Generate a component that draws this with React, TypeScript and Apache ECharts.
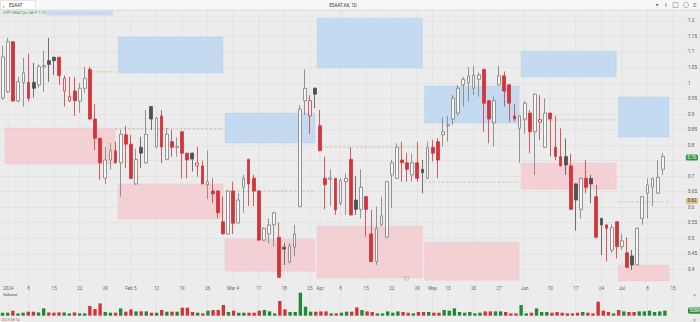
import React, { useEffect, useRef } from "react";
import * as echarts from "echarts";

// [open, close, low, high]
const candles: number[][] = [
  [0.952, 1.084, 0.945, 1.12], [0.972, 1.133, 0.968, 1.145], [1.133, 0.942, 0.94, 1.135], [0.942, 1.004, 0.938, 1.02],
  [1.002, 1.033, 0.924, 1.081], [1.002, 0.951, 0.94, 1.094], [1.002, 0.983, 0.953, 1.065], [0.994, 1.053, 0.985, 1.06],
  [1.052, 1.056, 0.972, 1.104], [1.072, 1.06, 1.004, 1.145], [1.083, 1.072, 1.026, 1.085], [1.083, 1.024, 0.994, 1.085],
  [0.974, 1.015, 0.924, 1.024], [0.942, 0.956, 0.94, 1.02], [0.974, 0.943, 0.894, 1.02], [0.942, 0.983, 0.904, 0.999],
  [0.983, 1.015, 0.967, 1.053], [1.044, 0.884, 0.882, 1.052], [0.884, 0.822, 0.784, 0.932], [0.822, 0.743, 0.688, 0.824],
  [0.694, 0.752, 0.675, 0.794], [0.752, 0.782, 0.72, 0.807], [0.782, 0.743, 0.741, 0.811], [0.743, 0.835, 0.634, 0.849],
  [0.833, 0.803, 0.725, 0.862], [0.803, 0.693, 0.69, 0.833], [0.675, 0.754, 0.672, 0.788], [0.793, 0.774, 0.726, 0.826],
  [0.743, 0.835, 0.741, 0.913], [0.924, 0.884, 0.849, 0.926], [0.794, 0.887, 0.79, 0.89], [0.894, 0.794, 0.742, 0.913],
  [0.754, 0.835, 0.752, 0.855], [0.811, 0.793, 0.762, 0.849], [0.793, 0.795, 0.763, 0.825], [0.843, 0.774, 0.693, 0.845],
  [0.774, 0.752, 0.693, 0.775], [0.774, 0.755, 0.715, 0.776], [0.733, 0.742, 0.698, 0.795], [0.733, 0.675, 0.674, 0.75],
  [0.672, 0.682, 0.626, 0.782], [0.652, 0.643, 0.613, 0.693], [0.652, 0.582, 0.564, 0.655], [0.553, 0.514, 0.512, 0.634],
  [0.514, 0.652, 0.512, 0.655], [0.652, 0.548, 0.514, 0.682], [0.549, 0.623, 0.548, 0.645], [0.664, 0.693, 0.582, 0.704],
  [0.754, 0.675, 0.604, 0.756], [0.693, 0.652, 0.604, 0.704], [0.652, 0.494, 0.492, 0.655], [0.494, 0.532, 0.492, 0.535],
  [0.514, 0.543, 0.484, 0.564], [0.543, 0.582, 0.473, 0.585], [0.503, 0.374, 0.372, 0.55], [0.471, 0.465, 0.414, 0.484],
  [0.423, 0.475, 0.419, 0.484], [0.471, 0.514, 0.443, 0.543], [0.602, 0.916, 0.6, 0.929], [0.943, 0.983, 0.897, 1.044],
  [0.894, 0.943, 0.836, 0.961], [0.983, 0.964, 0.919, 0.986], [0.862, 0.782, 0.78, 0.913], [0.693, 0.672, 0.593, 0.763],
  [0.69, 0.694, 0.604, 0.722], [0.693, 0.591, 0.575, 0.694], [0.612, 0.686, 0.606, 0.694], [0.682, 0.693, 0.575, 0.709],
  [0.754, 0.575, 0.573, 0.793], [0.623, 0.593, 0.575, 0.7], [0.593, 0.664, 0.564, 0.722], [0.634, 0.593, 0.505, 0.636],
  [0.514, 0.425, 0.423, 0.591], [0.425, 0.532, 0.414, 0.602], [0.543, 0.572, 0.54, 0.634], [0.503, 0.682, 0.501, 0.685],
  [0.704, 0.743, 0.597, 0.752], [0.693, 0.793, 0.69, 0.806], [0.752, 0.743, 0.682, 0.811], [0.743, 0.722, 0.682, 0.774],
  [0.704, 0.743, 0.682, 0.772], [0.743, 0.693, 0.682, 0.811], [0.722, 0.711, 0.645, 0.752], [0.693, 0.793, 0.69, 0.811],
  [0.793, 0.774, 0.747, 0.817], [0.811, 0.752, 0.693, 0.822], [0.833, 0.843, 0.795, 0.89], [0.862, 0.866, 0.811, 0.894],
  [0.884, 0.951, 0.865, 0.961], [0.903, 0.983, 0.894, 0.994], [0.994, 1.012, 0.924, 1.02], [1.001, 1.023, 0.94, 1.051],
  [0.983, 1.025, 0.961, 1.055], [1.012, 1.026, 0.956, 1.034], [1.044, 0.935, 0.843, 1.046], [0.943, 0.884, 0.806, 0.945],
  [0.872, 0.943, 0.795, 0.956], [0.994, 1.023, 0.992, 1.055], [1.023, 0.974, 0.924, 1.037], [0.994, 0.935, 0.876, 0.996],
  [0.894, 0.884, 0.876, 0.932], [0.854, 0.894, 0.743, 0.896], [0.884, 0.935, 0.836, 0.943], [0.903, 0.843, 0.774, 0.913],
  [0.843, 0.964, 0.704, 0.966], [0.874, 0.882, 0.817, 0.961], [0.793, 0.903, 0.791, 0.951], [0.903, 0.884, 0.763, 0.905],
  [0.793, 0.763, 0.752, 0.894], [0.763, 0.733, 0.731, 0.854], [0.763, 0.736, 0.704, 0.822], [0.733, 0.593, 0.591, 0.772],
  [0.675, 0.623, 0.524, 0.677], [0.593, 0.693, 0.564, 0.695], [0.693, 0.664, 0.645, 0.752], [0.693, 0.675, 0.613, 0.704],
  [0.634, 0.503, 0.501, 0.672], [0.564, 0.543, 0.446, 0.566], [0.543, 0.532, 0.425, 0.545], [0.462, 0.534, 0.453, 0.545],
  [0.553, 0.473, 0.435, 0.556], [0.473, 0.492, 0.462, 0.514], [0.453, 0.406, 0.404, 0.503], [0.443, 0.414, 0.398, 0.462],
  [0.414, 0.532, 0.412, 0.534], [0.564, 0.634, 0.543, 0.636], [0.645, 0.672, 0.564, 0.693], [0.664, 0.693, 0.604, 0.695],
  [0.645, 0.696, 0.643, 0.752], [0.722, 0.763, 0.704, 0.774],
];

// volume, thousands
const volumes: number[] = [
  300, 300, 500, 230, 300, 400, 400, 330, 730, 330,
  300, 330, 330, 230, 330, 230, 230, 970, 670, 1230,
  370, 300, 300, 730, 400, 630, 430, 430, 430, 300,
  300, 570, 400, 400, 400, 800, 800, 370, 300, 230,
  500, 570, 570, 1070, 370, 500, 300, 300, 300, 300,
  500, 570, 430, 230, 1470, 630, 370, 370, 2300, 900,
  400, 400, 430, 430, 230, 230, 300, 400, 400, 830,
  570, 430, 370, 230, 230, 430, 300, 430, 370, 300,
  230, 370, 370, 370, 300, 300, 570, 500, 730, 370,
  300, 370, 230, 300, 430, 430, 430, 430, 370, 230,
  230, 1070, 230, 300, 730, 370, 370, 300, 370, 300,
  230, 230, 300, 370, 300, 230, 1400, 500, 370, 230,
  570, 430, 370, 370, 430, 430, 500, 370, 430, 500,
];

const SLOTS = 134; // trading-day slots on the time axis (incl. empty right margin)

// time-axis tick labels: [slot index, text]
const tickLabels: [number, string][] = [
  [1, "2024"], [5, "8"], [10, "15"], [15, "22"], [20, "29"], [25, "Feb 5"], [30, "12"], [35, "19"],
  [40, "26"], [45, "Mar 4"], [50, "11"], [55, "18"], [60, "25"], [62, "Apr"], [66, "8"], [71, "15"],
  [76, "22"], [81, "29"], [84, "May"], [87, "13"], [92, "20"], [97, "27"], [102, "Jun"], [107, "10"],
  [112, "17"], [117, "24"], [121, "Jul"], [126, "8"], [131, "15"],
];

// monthly zones: [fromSlot, toSlot, low, high]
const blueZones: number[][] = [
  [22.5, 43.0, 1.032, 1.148],
  [43.4, 61.0, 0.807, 0.903],
  [61.4, 82.0, 1.048, 1.209],
  [82.4, 100.9, 0.871, 0.99],
  [101.3, 119.9, 1.019, 1.103],
  [120.3, 130.2, 0.826, 0.955],
];
const pinkZones: number[][] = [
  [0.4, 21.9, 0.739, 0.855],
  [22.5, 43.0, 0.562, 0.675],
  [43.4, 61.0, 0.394, 0.497],
  [61.4, 82.0, 0.372, 0.539],
  [82.4, 100.9, 0.365, 0.488],
  [101.3, 119.9, 0.658, 0.742],
  [120.3, 130.2, 0.362, 0.414],
];
// dashed reference levels: [fromSlot, toSlot, price]
const levels: number[][] = [
  [16.6, 21.9, 1.036],
  [21.9, 43.0, 0.853],
  [43.4, 61.0, 0.652],
  [61.4, 82.0, 0.793],
  [82.4, 100.9, 0.681],
  [101.3, 119.9, 0.881],
  [120.3, 130.2, 0.617],
];

const W = 700, H = 322;
const GRID_LEFT = -2.6, GRID_RIGHT = 12;
const P_TOP = 5.4, P_BOTTOM = 37.2;
const V_TOP = 291.7, V_BOTTOM = 6.3;

const BG = "#ececec";
const GRIDC = "#dddddd";
const RED = "#d3343a";
const DARK = "#4f4f4f";
const GRAY = "#7c7c7c";
const HOLLOW = "#f6f6f6";
const VGREEN = "#1f8a33";
const VRED = "#d3343a";
const FONT = "Roboto";

export default function App() {
  const ref = useRef<HTMLDivElement>(null);
  useEffect(() => {
    if (!ref.current) return;
    const chart = echarts.init(ref.current, undefined, { renderer: "svg" });
    const cats = Array.from({ length: SLOTS }, (_, i) => String(i));
    const labelMap: Record<string, string> = {};
    tickLabels.forEach(([i, t]) => (labelMap[String(i)] = t));

    const candleData = candles.map((c, i) => {
      const [o, cl] = c;
      const prev = i > 0 ? candles[i - 1][1] : o;
      const up = cl >= o;
      const gain = cl >= prev;
      const edge = gain ? (up ? GRAY : DARK) : RED;
      const fill = up ? HOLLOW : edge;
      return {
        value: c,
        itemStyle: { color: fill, color0: fill, borderColor: edge, borderColor0: edge, borderColorDoji: edge, borderWidth: 0.8 },
      };
    });
    const volData = volumes.map((v, i) => ({
      value: v,
      itemStyle: { color: candles[i][1] >= candles[i][0] ? VGREEN : VRED },
    }));
    const lastClose = candles[candles.length - 1][1];
    const lastVol = volumes[volumes.length - 1];
    const julLevel = levels[levels.length - 1][2];

    const zoneData = [
      ...blueZones.map((z) => [...z, 0]),
      ...pinkZones.map((z) => [...z, 1]),
    ];

    const badge = (bg: string, fg: string) => ({
      show: true,
      position: "end" as const,
      distance: 0,
      fontSize: 4.6,
      fontFamily: FONT,
      color: fg,
      backgroundColor: bg,
      padding: [0.6, 1.6, 0.6, 1.6],
      borderRadius: 1.5,
    });
    const invisibleLine = { color: "rgba(0,0,0,0)", width: 0.1, type: "solid" };

    const option: any = {
      animation: false,
      backgroundColor: BG,
      textStyle: { fontFamily: FONT },
      grid: [
        { left: GRID_LEFT, right: GRID_RIGHT, top: P_TOP, bottom: P_BOTTOM },
        { left: GRID_LEFT, right: GRID_RIGHT, top: V_TOP, bottom: V_BOTTOM },
      ],
      xAxis: [
        {
          type: "category",
          gridIndex: 0,
          data: cats,
          axisLine: { show: false },
          axisTick: { show: false },
          splitLine: { show: false },
          axisLabel: {
            interval: (idx: number) => labelMap[String(idx)] !== undefined,
            formatter: (v: string) => labelMap[v] ?? "",
            fontSize: 4.6,
            color: "#666",
            margin: 1.2,
            fontFamily: FONT,
            hideOverlap: false,
          },
        },
        { type: "value", gridIndex: 0, min: -0.5, max: SLOTS - 0.5, show: false },
        {
          type: "category",
          gridIndex: 1,
          data: cats,
          axisLine: { show: false },
          axisTick: { show: false },
          axisLabel: { show: false },
          splitLine: { show: false },
        },
      ],
      yAxis: [
        {
          type: "value",
          gridIndex: 0,
          position: "right",
          min: 0.35,
          max: 1.25,
          interval: 0.05,
          axisLine: { show: false },
          axisTick: { show: false },
          axisLabel: {
            fontSize: 4.6,
            color: "#555",
            margin: 2.2,
            fontFamily: FONT,
            showMinLabel: false,
            showMaxLabel: false,
            formatter: (v: number) => (Math.abs(v - lastClose) < 0.015 ? "" : String(+v.toFixed(2))),
          },
          splitLine: { lineStyle: { color: GRIDC, width: 0.6 }, showMinLine: false, showMaxLine: false },
        },
        {
          type: "value",
          gridIndex: 1,
          min: 0,
          max: 2400,
          show: false,
          splitLine: { show: false },
        },
      ],
      series: [
        {
          type: "custom",
          name: "vgrid",
          xAxisIndex: 1,
          yAxisIndex: 0,
          silent: true,
          z: 0,
          clip: false,
          data: tickLabels.map((t) => [t[0], 1]),
          renderItem: (params: any, api: any) => {
            const x = api.coord([api.value(0), 1])[0];
            const cs = params.coordSys;
            return {
              type: "group",
              children: [
                { type: "line", shape: { x1: x, y1: cs.y, x2: x, y2: H - P_BOTTOM - 3 }, style: { stroke: GRIDC, lineWidth: 0.6 } },
                { type: "line", shape: { x1: x, y1: V_TOP - 2, x2: x, y2: H - V_BOTTOM }, style: { stroke: GRIDC, lineWidth: 0.6 } },
              ],
            };
          },
        },
        {
          type: "custom",
          name: "zones",
          xAxisIndex: 1,
          yAxisIndex: 0,
          silent: true,
          z: 1,
          data: zoneData,
          encode: { x: [0, 1], y: [2, 3] },
          renderItem: (params: any, api: any) => {
            const p1 = api.coord([api.value(0), api.value(3)]);
            const p2 = api.coord([api.value(1), api.value(2)]);
            const blue = api.value(4) === 0;
            return {
              type: "rect",
              shape: { x: p1[0], y: p1[1], width: p2[0] - p1[0], height: p2[1] - p1[1] },
              style: {
                fill: blue ? "#c3daf1" : "#f3d0d4",
                stroke: blue ? "#a9c9ea" : "#eebcc2",
                lineWidth: 0.6,
                lineDash: [1.2, 1.2],
              },
            };
          },
        },
        {
          type: "custom",
          name: "levels",
          xAxisIndex: 1,
          yAxisIndex: 0,
          silent: true,
          z: 2,
          data: levels,
          encode: { x: [0, 1], y: 2 },
          renderItem: (params: any, api: any) => {
            const a = api.coord([api.value(0), api.value(2)]);
            const b = api.coord([api.value(1), api.value(2)]);
            return {
              type: "line",
              shape: { x1: a[0], y1: a[1], x2: b[0], y2: b[1] },
              style: { stroke: "#c4b089", lineWidth: 0.7, lineDash: [2.5, 1.8] },
            };
          },
        },
        {
          type: "candlestick",
          name: "price",
          xAxisIndex: 0,
          yAxisIndex: 0,
          z: 3,
          barWidth: "64%",
          data: candleData,
          markLine: {
            silent: true,
            symbol: ["none", "none"],
            lineStyle: invisibleLine,
            data: [
              { yAxis: lastClose, label: { ...badge("#2e9244", "#ffffff"), formatter: () => lastClose.toFixed(2) } },
              { yAxis: julLevel, label: { ...badge("#dcc48e", "#3a3222"), formatter: () => julLevel.toFixed(2) } },
            ],
          },
        },
        {
          type: "bar",
          name: "Volume",
          xAxisIndex: 2,
          yAxisIndex: 1,
          barWidth: "66%",
          data: volData,
          markLine: {
            silent: true,
            symbol: ["none", "none"],
            lineStyle: invisibleLine,
            data: [{ yAxis: lastVol, label: { ...badge("#2e9244", "#ffffff"), formatter: () => lastVol + "K" } }],
          },
        },
      ],
      graphic: [
        { type: "rect", z: 100, shape: { x: 0, y: 0, width: W, height: 10 }, style: { fill: "#f7f7f7" } },
        { type: "line", z: 100, shape: { x1: 0, y1: 10, x2: W, y2: 10 }, style: { stroke: "#d2d2d2", lineWidth: 0.6 } },
        { type: "rect", z: 101, shape: { x: 0.5, y: 0.5, width: 35, height: 9, r: 1 }, style: { fill: "#ffffff", stroke: "#cfcfcf", lineWidth: 0.5 } },
        { type: "text", z: 102, x: 2.5, y: 5, style: { text: "‹", fontSize: 6, fill: "#444", verticalAlign: "middle", fontFamily: FONT } },
        { type: "text", z: 102, x: 9, y: 5, style: { text: "ESAAT", fontSize: 4.5, fill: "#333", verticalAlign: "middle", fontFamily: FONT } },
        { type: "text", z: 102, x: 343, y: 5, style: { text: "ESAAT.AX, 1D", fontSize: 4.5, fill: "#333", align: "center", verticalAlign: "middle", fontFamily: FONT } },
        { type: "text", z: 102, x: 656, y: 5, style: { text: "■", fontSize: 3.5, fill: "#555", verticalAlign: "middle" } },
        { type: "text", z: 102, x: 665, y: 5, style: { text: "‖", fontSize: 4.5, fill: "#666", verticalAlign: "middle" } },
        { type: "rect", z: 102, shape: { x: 673, y: 2.5, width: 5, height: 5 }, style: { fill: "none", stroke: "#777", lineWidth: 0.5 } },
        { type: "circle", z: 102, shape: { cx: 686, cy: 5, r: 2.6 }, style: { fill: "none", stroke: "#777", lineWidth: 0.5 } },
        { type: "text", z: 102, x: 693, y: 5, style: { text: "≡", fontSize: 6, fill: "#666", verticalAlign: "middle" } },
        { type: "text", z: 102, x: 3, y: 13.2, style: { text: "STPT EMAT@a 14E-P 1:23%", fontSize: 3.6, fill: "#3f8f3f", verticalAlign: "middle", fontFamily: FONT } },
        { type: "rect", z: 102, shape: { x: 45, y: 10.8, width: 68, height: 4.6 }, style: { fill: "#c7dcf2" } },
        { type: "rect", z: 102, shape: { x: 404.5, y: 276.8, width: 4, height: 3.2, r: 0.6 }, style: { fill: "none", stroke: "#9a9a9a", lineWidth: 0.5 } },
        { type: "text", z: 102, x: 3, y: 294.3, style: { text: "Volume", fontSize: 4.2, fill: "#444", verticalAlign: "middle", fontFamily: FONT } },
        { type: "text", z: 102, x: 693, y: 295, style: { text: "×", fontSize: 5, fill: "#777", verticalAlign: "middle" } },
        { type: "text", z: 102, x: 693, y: 319.5, style: { text: "×", fontSize: 5, fill: "#777", verticalAlign: "middle" } },
        { type: "text", z: 102, x: 1.5, y: 319.6, style: { text: "2023-08-14", fontSize: 3.6, fill: "#c9564c", verticalAlign: "middle", fontFamily: FONT } },
      ],
    };
    chart.setOption(option);
    return () => chart.dispose();
  }, []);
  return <div ref={ref} style={{ position: "fixed", left: 0, top: 0, width: W, height: H }} />;
}
